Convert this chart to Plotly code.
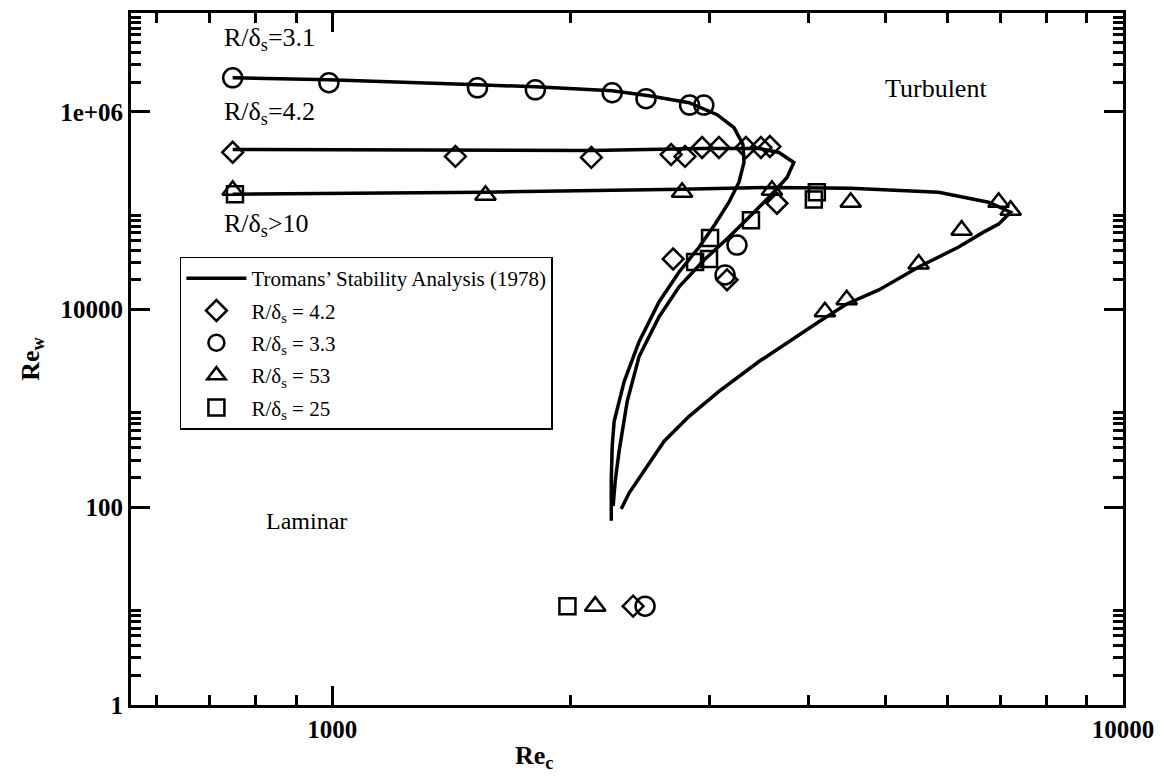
import plotly.graph_objects as go

# Tromans' stability analysis (1978): neutral curves, Re_c vs Re_w
tromans_31_rec = [748, 990, 1526, 1806, 2259, 2515, 2826, 3066, 3221, 3306, 3316, 3268,
                  3174, 3048, 2910, 2745, 2590, 2443, 2339, 2272, 2259, 2253, 2253]
tromans_31_rew = [2.21e6, 2.11e6, 1.88e6, 1.79e6, 1.635e6, 1.455e6, 1.238e6, 9.37e5, 6.93e5,
                  4.67e5, 3.08e5, 1.94e5, 1.22e5, 7.31e4, 4.29e4, 2.40e4, 1.2e4, 4.74e3,
                  1.87e3, 742, 415, 184, 73]

tromans_42_rec = [748, 1431, 2126, 2935, 3464, 3671, 3834, 3759, 3566, 3365, 3174, 2952,
                  2745, 2590, 2443, 2360, 2305, 2279, 2265]
tromans_42_rew = [4.16e5, 4.07e5, 4.07e5, 4.26e5, 4.26e5, 3.88e5, 3.08e5, 2.17e5, 1.37e5,
                  8.6e4, 5.41e4, 3.17e4, 1.70e4, 8.46e3, 3.35e3, 1.18e3, 370, 184, 103]

tromans_10_rec = [748, 1562, 2769, 3597, 4525, 5846, 6760, 7209, 6961, 6661, 6196, 5515,
                  4911, 4472, 4124, 3780, 3464, 3083, 2826, 2628, 2479, 2374, 2319]
tromans_10_rew = [1.47e5, 1.54e5, 1.65e5, 1.72e5, 1.69e5, 1.54e5, 1.22e5, 9.66e4, 7.31e4,
                  6.07e4, 4.29e4, 2.7e4, 1.58e4, 1.14e4, 7.54e3, 4.74e3, 2.98e3, 1.49e3,
                  832, 466, 233, 140, 96]

# Measured transition points
diam_rec = [748, 1431, 2126, 2682, 2793, 2935, 3083, 3335, 3484, 3576, 3650, 3156, 2698, 2401]
diam_rew = [3.9e5, 3.54e5, 3.46e5, 3.7e5, 3.54e5, 4.36e5, 4.36e5, 4.36e5, 4.36e5, 4.46e5,
            1.19e5, 2.0e4, 3.25e4, 10]

circ_rec = [748, 990, 1526, 1806, 2259, 2493, 2830, 2950, 3249, 3138, 2486]
circ_rew = [2.21e6, 1.97e6, 1.75e6, 1.67e6, 1.56e6, 1.36e6, 1.17e6, 1.17e6, 4.49e4, 2.24e4, 10]

tri_rec = [748, 1562, 2769, 3597, 4525, 6961, 7209, 6250, 5515, 4472, 4197, 2150]
tri_rew = [1.61e5, 1.43e5, 1.54e5, 1.61e5, 1.22e5, 1.22e5, 1.01e5, 6.36e4, 2.89e4,
           1.255e4, 9.5e3, 10]

sq_rec = [753, 4100, 4064, 3384, 3004, 2995, 2876, 1983]
sq_rew = [1.47e5, 1.54e5, 1.3e5, 8.0e4, 5.3e4, 3.25e4, 3.03e4, 10]

x_ticks = [1000, 10000]
x_ticktext = ["1000", "10000"]
y_ticks = [1, 100, 10000, 1e6]
y_ticktext = ["1", "100", "10000", "1e+06"]

SERIF = "Liberation Serif"
BLACK = "black"

fig = go.Figure()

curves = [(tromans_31_rec, tromans_31_rew), (tromans_42_rec, tromans_42_rew),
          (tromans_10_rec, tromans_10_rew)]
for i, (cx, cy) in enumerate(curves):
    fig.add_trace(go.Scatter(
        x=cx, y=cy, mode="lines", line=dict(color=BLACK, width=3.5),
        name="Tromans’ Stability Analysis (1978)", legendgroup="tromans",
        showlegend=(i == 0)))

marker_sets = [
    (diam_rec, diam_rew, "diamond-open", 16, "R/δ<sub>s</sub> = 4.2"),
    (circ_rec, circ_rew, "circle-open", 19, "R/δ<sub>s</sub> = 3.3"),
    (tri_rec, tri_rew, "triangle-up-open", 18, "R/δ<sub>s</sub> = 53"),
    (sq_rec, sq_rew, "square-open", 16, "R/δ<sub>s</sub> = 25"),
]
for k, (mx, my, sym, sz, label) in enumerate(marker_sets):
    fig.add_trace(go.Scatter(
        x=mx, y=my, mode="markers", name=label, legendgroup=f"data{k}",
        marker=dict(symbol=sym, size=sz, color=BLACK, line=dict(color=BLACK, width=2.5))))

x_minor = [600, 700, 800, 900] + [k * 1000 for k in range(2, 10)]
y_minor = [k * 10 ** e for e in (0, 2, 4, 6) for k in range(2, 10)]

axis_common = dict(
    type="log", showgrid=False, zeroline=False, showline=True, linecolor=BLACK,
    linewidth=3, mirror="ticks", ticks="inside", ticklen=19, tickwidth=2.5,
    tickcolor=BLACK, tickmode="array",
    tickfont=dict(family=SERIF, size=25, color=BLACK, weight="bold"),
)
fig.update_xaxes(
    **axis_common, range=[2.7453, 4.0], tickvals=x_ticks, ticktext=x_ticktext,
    minor=dict(tickmode="array", tickvals=x_minor, ticks="inside", ticklen=10,
               tickwidth=2.5, tickcolor=BLACK))
fig.update_yaxes(
    **axis_common, range=[0, 7], tickvals=y_ticks, ticktext=y_ticktext,
    minor=dict(tickmode="array", tickvals=y_minor, ticks="inside", ticklen=10,
               tickwidth=2.5, tickcolor=BLACK))

text_font = dict(family=SERIF, size=26, color=BLACK)
labels = [
    (0.0915, 0.962, "R/δ<sub>s</sub>=3.1", "left", 26),
    (0.0915, 0.856, "R/δ<sub>s</sub>=4.2", "left", 26),
    (0.0915, 0.693, "R/δ<sub>s</sub>>10", "left", 26),
    (0.811, 0.891, "Turbulent", "center", 26),
    (0.177, 0.266, "Laminar", "center", 24),
]
for lx, ly, txt, anchor, fs in labels:
    fig.add_annotation(x=lx, y=ly, xref="paper", yref="paper", text=txt,
                       showarrow=False, xanchor=anchor, yanchor="middle",
                       font=dict(family=SERIF, size=fs, color=BLACK))

title_font = dict(family=SERIF, size=26, color=BLACK, weight="bold")
fig.add_annotation(x=(535 - 131) / 994, y=-0.075, xref="paper", yref="paper",
                   text="Re<sub>c</sub>", showarrow=False, xanchor="center",
                   yanchor="middle", font=title_font)
fig.add_annotation(x=-0.1, y=0.5, xref="paper", yref="paper",
                   text="Re<sub>w</sub>", showarrow=False, textangle=-90,
                   xanchor="center", yanchor="middle", font=title_font)

fig.update_layout(
    width=1164, height=777,
    margin=dict(l=131, r=39, t=10, b=72),
    paper_bgcolor="white", plot_bgcolor="white",
    legend=dict(x=0.0493, y=0.648, xanchor="left", yanchor="top",
                bgcolor="white", bordercolor=BLACK, borderwidth=1.5,
                font=dict(family=SERIF, size=21, color=BLACK),
                itemwidth=60, tracegroupgap=2, traceorder="grouped"),
)

fig.write_html("out.html")
